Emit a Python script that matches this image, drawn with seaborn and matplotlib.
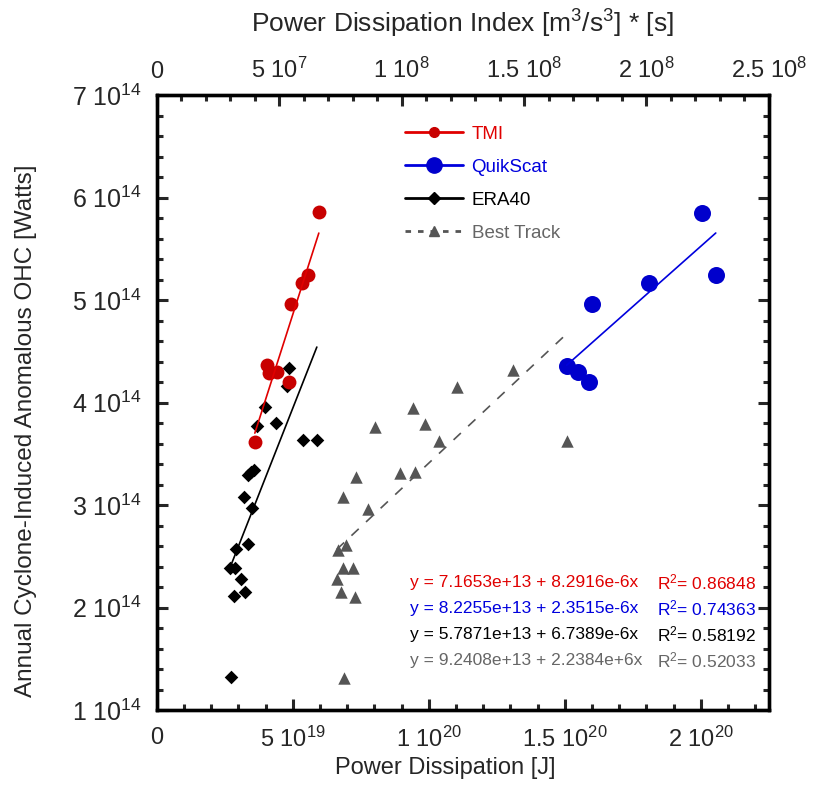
import numpy as np
import pandas as pd
import matplotlib
matplotlib.use("Agg")
import matplotlib.pyplot as plt
from matplotlib.lines import Line2D
from matplotlib.ticker import MultipleLocator
import seaborn as sns

# TMI (x: power dissipation [J], y: OHC [W])
tmi_pd = [5.955e19, 5.551e19, 5.330e19, 4.926e19, 4.044e19, 4.117e19, 4.411e19, 4.852e19, 3.602e19]
tmi_ohc = [5.859e14, 5.244e14, 5.166e14, 4.961e14, 4.366e14, 4.288e14, 4.298e14, 4.200e14, 3.615e14]

# QuikScat
qs_pd = [2.003e20, 2.055e20, 1.809e20, 1.599e20, 1.507e20, 1.548e20, 1.588e20]
qs_ohc = [5.849e14, 5.244e14, 5.166e14, 4.961e14, 4.356e14, 4.298e14, 4.200e14]

# ERA40
era_pd = [4.852e19, 4.779e19, 3.970e19, 4.374e19, 3.676e19, 5.367e19, 5.882e19,
          3.345e19, 3.455e19, 3.566e19, 3.198e19, 3.492e19, 3.345e19, 2.904e19,
          2.683e19, 2.867e19, 3.088e19, 3.235e19, 2.831e19, 2.720e19]
era_ohc = [4.337e14, 4.161e14, 3.956e14, 3.800e14, 3.771e14, 3.634e14, 3.634e14,
           3.293e14, 3.322e14, 3.341e14, 3.078e14, 2.971e14, 2.620e14, 2.571e14,
           2.385e14, 2.385e14, 2.278e14, 2.151e14, 2.112e14, 1.322e14]

# Best Track (x: power dissipation index, top axis)
bt_pdi = [1.454e8, 1.2255e8, 1.0458e8, 1.0948e8, 8.905e7, 1.152e8, 1.675e8,
          8.129e7, 9.927e7, 1.054e8, 7.598e7, 8.619e7, 7.721e7, 7.394e7,
          7.598e7, 8.007e7, 7.353e7, 7.516e7, 8.088e7, 7.639e7]
bt_ohc = [4.317e14, 4.151e14, 3.946e14, 3.790e14, 3.761e14, 3.624e14, 3.624e14,
          3.273e14, 3.312e14, 3.322e14, 3.078e14, 2.961e14, 2.610e14, 2.561e14,
          2.385e14, 2.385e14, 2.278e14, 2.151e14, 2.102e14, 1.312e14]

# fit coefficients (intercept, slope) and R^2
fits = {
    "TMI": (7.1653e13, 8.2916e-6, 0.86848),
    "QuikScat": (8.2255e13, 2.3515e-6, 0.74363),
    "ERA40": (5.7871e13, 6.7389e-6, 0.58192),
    "Best Track": (9.2408e13, 2.2384e6, 0.52033),
}
eq_texts = ["y = 7.1653e+13 + 8.2916e-6x", "y = 8.2255e+13 + 2.3515e-6x",
            "y = 5.7871e+13 + 6.7389e-6x", "y = 9.2408e+13 + 2.2384e+6x"]
r2_texts = ["0.86848", "0.74363", "0.58192", "0.52033"]

bottom_ticks = [0, 5e19, 1e20, 1.5e20, 2e20]
bottom_labels = ["0", "5 10$^{19}$", "1 10$^{20}$", "1.5 10$^{20}$", "2 10$^{20}$"]
top_ticks = [0, 5e7, 1e8, 1.5e8, 2e8, 2.5e8]
top_labels = ["0", "5 10$^{7}$", "1 10$^{8}$", "1.5 10$^{8}$", "2 10$^{8}$", "2.5 10$^{8}$"]
y_ticks = [1e14, 2e14, 3e14, 4e14, 5e14, 6e14, 7e14]
y_labels = ["%d 10$^{14}$" % v for v in range(1, 8)]

sns.set_style("ticks")
plt.rcParams["font.family"] = ["Liberation Sans", "DejaVu Sans"]
plt.rcParams["mathtext.default"] = "regular"

red_m, red_l = "#C80000", "#E00000"
blue_m, blue_l = "#0000CC", "#0000DD"
gray_m, gray_t = "#555555", "#666666"

fig = plt.figure(figsize=(8.17, 7.99), dpi=100)
ax = fig.add_axes([0.192, 0.111, 0.749, 0.770])
ax2 = ax.twiny()


def fit_line(name, xs):
    a, b, _ = fits[name]
    xx = np.array([min(xs), max(xs)])
    return pd.DataFrame({"x": xx, "y": a + b * xx})


# fit lines
sns.lineplot(data=fit_line("TMI", tmi_pd), x="x", y="y", ax=ax, color=red_l, lw=1.2)
sns.lineplot(data=fit_line("QuikScat", qs_pd), x="x", y="y", ax=ax, color=blue_l, lw=1.2)
sns.lineplot(data=fit_line("ERA40", era_pd), x="x", y="y", ax=ax, color="black", lw=1.2)
sns.lineplot(data=fit_line("Best Track", bt_pdi), x="x", y="y", ax=ax2, color=gray_m, lw=1.2)
ax2.lines[-1].set_linestyle((0, (6, 6)))

# points
sns.scatterplot(x=era_pd, y=era_ohc, ax=ax, marker="D", s=48, color="black", linewidth=0)
sns.scatterplot(x=tmi_pd, y=tmi_ohc, ax=ax, marker="o", s=100, color=red_m, linewidth=0)
sns.scatterplot(x=qs_pd, y=qs_ohc, ax=ax, marker="o", s=150, color=blue_m, linewidth=0)
sns.scatterplot(x=bt_pdi, y=bt_ohc, ax=ax2, marker="^", s=80, color=gray_m, linewidth=0)

ax.set_xlim(0, 2.25e20)
ax.set_ylim(1e14, 7e14)
ax2.set_xlim(0, 2.5e8)
ax2.set_ylim(1e14, 7e14)

ax.set_xticks(bottom_ticks, bottom_labels)
ax.xaxis.set_minor_locator(MultipleLocator(1e19))
ax.set_yticks(y_ticks, y_labels)
ax.yaxis.set_minor_locator(MultipleLocator(2e13))
ax2.set_xticks(top_ticks, top_labels)
ax2.xaxis.set_minor_locator(MultipleLocator(1e7))

ax.tick_params(axis="both", which="major", direction="in", length=8, width=2.2)
ax.tick_params(axis="x", which="major", pad=12, labelsize=17)
ax.tick_params(axis="y", which="major", pad=11, labelsize=18)
ax.tick_params(axis="both", which="minor", direction="in", length=4, width=2.2)
ax.tick_params(axis="y", which="both", right=True)
ax.tick_params(axis="x", which="both", top=False)
ax2.tick_params(axis="x", which="major", direction="in", length=8, width=2.2,
                labelsize=17, pad=9)
ax2.tick_params(axis="x", which="minor", direction="in", length=4, width=2.2)

for a_ in (ax, ax2):
    for sp in a_.spines.values():
        sp.set_linewidth(2.4)
        sp.set_color("black")

ax.set_xlabel("Power Dissipation [J]", fontsize=17)
ax.xaxis.set_label_coords(0.472, -0.076)
ax.set_ylabel("Annual Cyclone-Induced Anomalous OHC [Watts]", fontsize=17.5)
ax.yaxis.set_label_coords(-0.196, 0.455)
ax2.set_xlabel("Power Dissipation Index [m$^3$/s$^3$] * [s]", fontsize=19, labelpad=18)

# legend
handles = [
    Line2D([], [], color=red_l, lw=2, marker="o", ms=7, mfc=red_m, mec=red_m),
    Line2D([], [], color=blue_l, lw=2, marker="o", ms=11, mfc=blue_m, mec=blue_m),
    Line2D([], [], color="black", lw=2, marker="D", ms=6),
    Line2D([], [], color=gray_m, lw=2, ls=(0, (2, 2.5)), marker="^", ms=7),
]
names = ["TMI", "QuikScat", "ERA40", "Best Track"]
leg = ax.legend(handles, names, loc="upper left", bbox_to_anchor=(0.378, 0.978),
                frameon=False, fontsize=13.5, handlelength=3.1, labelspacing=0.85,
                handletextpad=0.45)
for txt, c in zip(leg.get_texts(), [red_l, blue_l, "black", gray_t]):
    txt.set_color(c)

# fit equations
eq_colors = [red_l, blue_l, "black", gray_t]
eq_y = [0.208, 0.166, 0.124, 0.081]
for t, r, c, yy in zip(eq_texts, r2_texts, eq_colors, eq_y):
    ax.text(0.413, yy, t, transform=ax.transAxes, color=c, fontsize=12.5, va="center")
    ax.text(0.818, yy, "R$^2$= " + r, transform=ax.transAxes, color=c, fontsize=12.5,
            va="center")

fig.savefig("out.png", dpi=100)
